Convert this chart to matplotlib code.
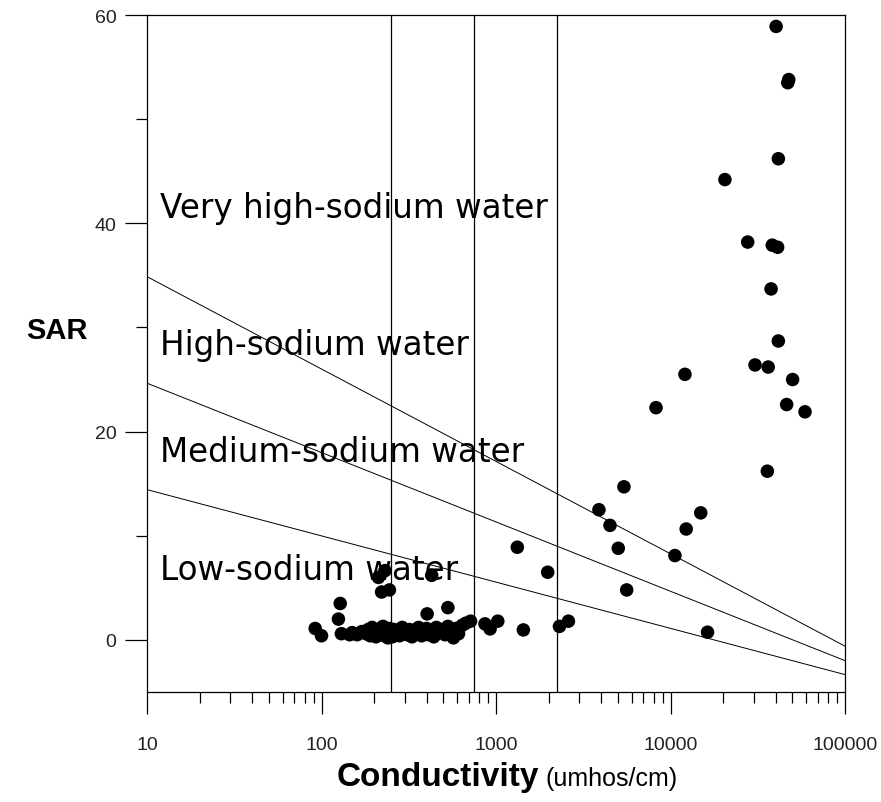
import numpy as np
import matplotlib
matplotlib.use("Agg")
import matplotlib.pyplot as plt

# sample points: conductivity (umhos/cm) and SAR
ec_high = [40300, 47000, 47600, 41500, 20500, 27700, 38300, 41100, 37700, 41500,
           30500, 36300, 12100, 50100, 46300, 8260, 59000, 35900, 5410, 3890,
           14900, 4500, 12300, 5020, 10600, 1325, 1978, 5610, 16300, 2310,
           2600, 1435, 1024, 925, 865, 715]
sar_high = [58.9, 53.5, 53.8, 46.2, 44.2, 38.2, 37.9, 37.7, 33.7, 28.7,
            26.4, 26.2, 25.5, 25.0, 22.6, 22.3, 21.9, 16.2, 14.7, 12.5,
            12.2, 11.0, 10.65, 8.8, 8.1, 8.9, 6.5, 4.8, 0.74, 1.3,
            1.8, 0.96, 1.8, 1.06, 1.54, 1.8]

ec_low = [212, 231, 221, 245, 428, 128, 125, 403, 530, 92, 100]
sar_low = [6.0, 6.65, 4.6, 4.8, 6.2, 3.5, 2.0, 2.5, 3.1, 1.1, 0.4]

ec_cluster = [130, 145, 150, 160, 170, 180, 185, 190, 195, 200, 205, 210, 215,
              220, 225, 230, 235, 240, 245, 250, 255, 260, 270, 280, 290, 300,
              310, 320, 330, 340, 350, 360, 375, 390, 400, 410, 425, 440, 455,
              470, 490, 510, 530, 550, 570, 590, 610, 640, 670]
sar_cluster = [0.6, 0.5, 0.7, 0.5, 0.8, 0.6, 1.0, 0.4, 1.2, 0.7, 0.3, 1.0, 0.5,
               0.8, 1.3, 0.4, 0.9, 0.2, 1.1, 0.6, 0.3, 1.0, 0.7, 0.4, 1.2, 0.8,
               0.5, 1.0, 0.3, 0.9, 0.6, 1.2, 0.4, 0.8, 1.1, 0.5, 0.9, 0.3, 1.2,
               0.7, 1.0, 0.5, 1.3, 0.8, 0.2, 1.1, 0.6, 1.4, 1.6]

# salinity class boundaries (umhos/cm)
ec_bounds = [250, 750, 2250]
# sodium hazard boundaries: SAR = a + b*log10(EC)
sodium_a = [43.75, 31.31, 18.87]
sodium_b = [-8.87, -6.66, -4.44]

zone_names = ["Very high-sodium water", "High-sodium water",
              "Medium-sodium water", "Low-sodium water"]
zone_sar = [41.5, 28.4, 18.1, 6.8]

ec_all = ec_high + ec_low + ec_cluster
sar_all = sar_high + sar_low + sar_cluster

fig = plt.figure(figsize=(8.81, 8.03), dpi=100)
ax = fig.add_axes([147 / 881, 110 / 803, 698 / 881, 677 / 803])

ax.set_xscale("log")
ax.set_xlim(10, 100000)
ax.set_ylim(-5, 60)

for xb in ec_bounds:
    ax.axvline(xb, color="black", lw=0.9)

xs = np.array([10, 100000])
for a, b in zip(sodium_a, sodium_b):
    ax.plot(xs, a + b * np.log10(xs), color="black", lw=0.7)

ax.scatter(ec_all, sar_all, s=95, color="black", edgecolors="none", zorder=3)

for name, y in zip(zone_names, zone_sar):
    ax.text(11.9, y, name, fontsize=23.5, va="center", ha="left",
            family="DejaVu Sans", color="black")

for sp in ax.spines.values():
    sp.set_linewidth(0.9)

ax.set_yticks([0, 20, 40, 60])
ax.set_yticks([10, 30, 50], minor=True)
ax.set_xticks([10, 100, 1000, 10000, 100000])
ax.set_xticklabels(["10", "100", "1000", "10000", "100000"])
ax.tick_params(axis="both", which="major", length=16, width=0.9, direction="out")
ax.tick_params(axis="both", which="minor", length=8, width=0.9, direction="out")
ax.tick_params(axis="x", which="major", pad=16)
ax.tick_params(axis="y", which="major", pad=6)
ax.xaxis.set_minor_formatter(matplotlib.ticker.NullFormatter())

for lab in ax.get_xticklabels() + ax.get_yticklabels():
    lab.set_family("Liberation Sans")
    lab.set_fontsize(14)
    lab.set_color("#222222")

ax.set_ylabel("SAR", rotation=0, fontsize=21, fontweight="bold",
              family="Liberation Sans")
ax.yaxis.set_label_coords(-0.129, 0.514)

t1 = ax.text(0.271, -0.137, "Conductivity", transform=ax.transAxes,
             fontsize=24, fontweight="bold", family="Liberation Sans",
             ha="left", va="baseline")
ax.annotate("(umhos/cm)", xy=(1, -0.137), xycoords=(t1, "axes fraction"),
            xytext=(5, 0), textcoords="offset points",
            fontsize=18, family="Liberation Sans", ha="left", va="baseline")

fig.savefig("out.png", dpi=100)
